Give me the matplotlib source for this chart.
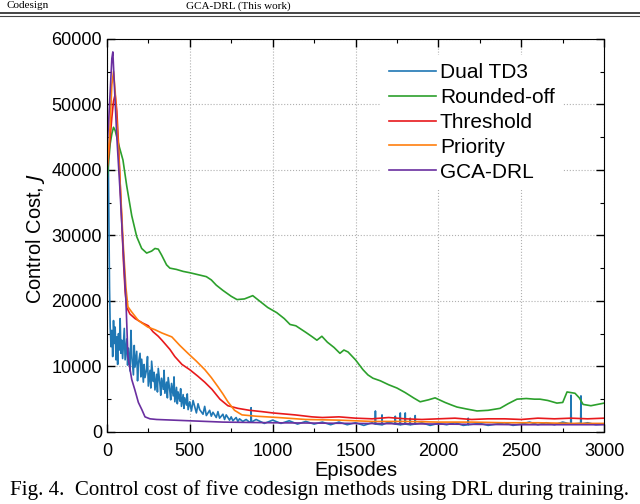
import matplotlib
matplotlib.use("Agg")
import matplotlib.pyplot as plt
from matplotlib.lines import Line2D
from matplotlib.ticker import MultipleLocator

plt.rcParams['font.family'] = ['Liberation Sans', 'DejaVu Sans']

# Dual TD3
td3_ep = [0, 8, 12, 16, 20, 25, 30, 35, 40, 45, 50, 55, 60, 65, 70, 75, 80, 85, 90, 95,
          100, 105, 110, 120, 125, 130, 140, 145, 150, 160, 165, 170, 180, 185, 190, 200,
          205, 210, 220, 225, 230, 240, 245, 250, 260, 265, 270, 280, 285, 290, 300, 305,
          310, 320, 325, 330, 340, 345, 350, 360, 365, 370, 380, 385, 390, 400, 405, 410,
          420, 425, 430, 440, 445, 450, 460, 465, 470, 480, 485, 490, 500, 510, 520, 540,
          550, 560, 580, 590, 600, 620, 630, 640, 660, 670, 680, 700, 710, 720, 740, 750,
          760, 780, 790, 800, 820, 840, 860, 868, 870, 872, 900, 950,
          1000, 1050, 1100, 1150, 1200, 1250, 1300, 1350, 1400, 1450, 1500, 1550, 1600,
          1618, 1620, 1622, 1658, 1660, 1662, 1700, 1738, 1740, 1742, 1768, 1770, 1772,
          1798, 1800, 1802, 1828, 1830, 1832, 1858, 1860, 1862, 1900, 1950, 2000, 2050,
          2100, 2150, 2178, 2180, 2182, 2250, 2300, 2400, 2450, 2500, 2550, 2600, 2650,
          2700, 2750, 2798, 2800, 2802, 2850, 2858, 2860, 2862, 2900, 2950, 3000]
td3_cost = [44000, 43000, 32000, 22000, 16000, 13000, 15500, 11500, 17000, 13500, 16000,
            11000, 14500, 10300, 15000, 12500, 17300, 12000, 14000, 11200,
            13500, 15800, 11000, 14200, 10200, 12800, 9300, 15500, 11800, 8700, 13200, 9900,
            12300, 7800, 10400, 12000, 8400, 11100, 7600, 10300, 8300, 9600, 11500, 7000,
            9400, 6700, 10800, 7700, 9100, 6400, 8800, 6100, 9700, 7300, 5600, 8200, 6500,
            9400, 5900, 7600, 5200, 8300, 6200, 4900, 7400, 5500, 8400, 4600, 6800, 4300,
            6100, 4700, 6600, 3900, 5700, 3600, 5200, 4100, 5800, 3400, 4600, 3200, 4800,
            2900, 4300, 3400, 2700, 3900, 2500, 3300, 2400, 3000, 2200, 3100, 2100, 2700,
            1900, 2600, 1800, 2300, 1700, 2200, 1600, 2000, 1600, 1900, 1500, 1500, 3700,
            1500, 1900, 1300,
            1800, 1300, 1700, 1200, 1600, 1200, 1500, 1100, 1500, 1100, 1400, 1000, 1400,
            1200, 3200, 1200, 1100, 2600, 1100, 1500, 1200, 2400, 1200, 1100, 2900, 1100,
            1200, 2900, 1200, 1100, 2100, 1100, 1200, 2500, 1200, 1400, 1000, 1300, 1100,
            1400, 1000, 1100, 2100, 1100, 1300, 1000, 1400, 1000, 1200, 1500, 1100, 1400,
            1100, 1500, 1200, 5600, 1200, 1300, 1200, 5500, 1200, 1400, 1100, 1200]

# Rounded-off
round_ep = [0, 10, 20, 30, 40, 50, 60, 75, 97, 120, 150, 180, 210, 240, 270, 290, 310,
            330, 360, 380, 420, 460, 500, 550, 600, 630, 660, 700, 750, 785, 830, 880,
            920, 970, 1025, 1070, 1105, 1140, 1200, 1240, 1267, 1297, 1330, 1370, 1406,
            1430, 1455, 1500, 1545, 1575, 1605, 1650, 1700, 1750, 1800, 1850, 1890, 1940,
            1980, 2040, 2080, 2112, 2170, 2233, 2300, 2372, 2420, 2474, 2530, 2580, 2613,
            2660, 2715, 2750, 2776, 2800, 2824, 2850, 2873, 2920, 2960, 3000]
round_cost = [38000, 41000, 44000, 45500, 46500, 46000, 45000, 43500, 41500, 37500, 33000,
              29800, 28000, 27300, 27600, 28000, 27900, 27000, 25500, 25000, 24800, 24500,
              24300, 24000, 23700, 23200, 22400, 21600, 20700, 20200, 20300, 20800, 20000,
              19000, 18200, 17300, 16400, 16200, 15200, 14500, 14000, 14600, 13700, 12900,
              12000, 12500, 12200, 11000, 9500, 8700, 8200, 7800, 7200, 6700, 6000, 5200,
              4600, 4900, 5200, 4500, 4100, 3800, 3500, 3200, 3300, 3600, 4300, 5000, 5100,
              5000, 5000, 4800, 4400, 4500, 6100, 6000, 5900, 5200, 4200, 4000, 4200, 4400]

# Threshold
thr_ep = [0, 10, 20, 30, 40, 50, 60, 70, 80, 90, 100, 110, 120, 139, 170, 217, 250, 278,
          310, 332, 380, 410, 453, 500, 549, 590, 634, 682, 730, 790, 860, 935, 1000, 1135,
          1237, 1300, 1400, 1500, 1600, 1700, 1800, 1900, 2000, 2100, 2200, 2300, 2400,
          2500, 2600, 2700, 2800, 2900, 3000]
thr_cost = [40000, 42000, 45000, 48000, 50500, 51500, 49000, 44000, 38000, 32000, 26000,
            21500, 19000, 18000, 17300, 16600, 16200, 15300, 14600, 14000, 12600, 11500,
            10300, 9500, 8500, 7600, 6500, 5000, 4000, 3600, 3300, 3100, 2900, 2600, 2300,
            2200, 2300, 2100, 2000, 2200, 2000, 1900, 2000, 2100, 1900, 2000, 2000, 1900,
            2100, 2000, 2100, 2000, 2100]

# Priority
pri_ep = [0, 10, 20, 30, 40, 50, 60, 70, 80, 90, 100, 115, 127, 150, 190, 247, 290, 332,
          392, 440, 489, 540, 591, 630, 670, 700, 730, 770, 815, 900, 1032, 1200, 1400,
          1600, 1800, 2000, 2200, 2400, 2600, 2800, 3000]
pri_cost = [40000, 43000, 47000, 53000, 55000, 52000, 47000, 43000, 38000, 33000, 28000,
            22000, 19100, 18300, 17000, 16000, 15600, 15100, 14500, 13200, 12000, 10800,
            9500, 8300, 6900, 5800, 4600, 3300, 2600, 2400, 2200, 1900, 1800, 1600, 1600,
            1500, 1500, 1400, 1400, 1300, 1300]

# GCA-DRL
gca_ep = [0, 10, 20, 30, 36, 45, 60, 78, 100, 115, 127, 150, 169, 190, 211, 230, 260,
          300, 400, 500, 700, 1000, 1500, 2000, 2500, 3000]
gca_cost = [43000, 47000, 52000, 57000, 58000, 53000, 45000, 37400, 27000, 20000, 11500,
            8000, 6400, 4500, 3400, 2300, 2000, 1900, 1800, 1700, 1500, 1400, 1300, 1200,
            1100, 1100]

fig = plt.figure(figsize=(6.4, 5.04), dpi=100)
ax = fig.add_axes([0.167, 0.143, 0.777, 0.780])

ax.plot(td3_ep, td3_cost, color='#1f77b4', lw=1.2, label='Dual TD3')
ax.plot(round_ep, round_cost, color='#2ca02c', lw=1.2, label='Rounded-off')
ax.plot(thr_ep, thr_cost, color='#e8191c', lw=1.2, label='Threshold')
ax.plot(pri_ep, pri_cost, color='#ff7f0e', lw=1.2, label='Priority')
ax.plot(gca_ep, gca_cost, color='#6a2fa0', lw=1.2, label='GCA-DRL')

ax.set_xlim(0, 3000)
ax.set_ylim(0, 60000)
ax.xaxis.set_major_locator(MultipleLocator(500))
ax.xaxis.set_minor_locator(MultipleLocator(250))
ax.yaxis.set_major_locator(MultipleLocator(10000))
ax.yaxis.set_minor_locator(MultipleLocator(5000))
ax.tick_params(which='both', direction='in', top=True, right=True, labelsize=13)
ax.tick_params(which='major', length=6, width=1)
ax.tick_params(which='minor', length=3, width=0.8)
ax.tick_params(axis='x', which='major', pad=8)
ax.grid(True, which='major', linestyle=':', color='#b0b0b0', lw=0.8)

ax.set_xlabel('Episodes', fontsize=14.5, labelpad=1)
ax.set_ylabel('Control Cost, $J$', fontsize=14.5)
ax.yaxis.set_label_coords(-0.12, 0.49)

leg = ax.legend(loc='upper right', bbox_to_anchor=(0.917, 0.959), frameon=True,
                fontsize=15, handlelength=2.26, handletextpad=0.2, labelspacing=0.28,
                borderaxespad=0)
leg.get_frame().set_facecolor('white')
leg.get_frame().set_edgecolor('none')
leg.get_frame().set_alpha(1)

# page header and caption from the paper scan
fig.text(0.01, 0.998, 'Codesign', fontsize=8, family='Liberation Serif', va='top')
fig.text(0.29, 0.998, 'GCA-DRL (This work)', fontsize=8, family='Liberation Serif', va='top')
fig.add_artist(Line2D([0, 1], [0.974, 0.974], color='#444444', lw=1.4))
fig.add_artist(Line2D([0, 1], [0.969, 0.969], color='#444444', lw=0.8))
fig.text(0.5, 0.008, 'Fig. 4.  Control cost of five codesign methods using DRL during training.',
         fontsize=15.1, family='Liberation Serif', ha='center', va='bottom')

fig.savefig('out.png', dpi=100)
